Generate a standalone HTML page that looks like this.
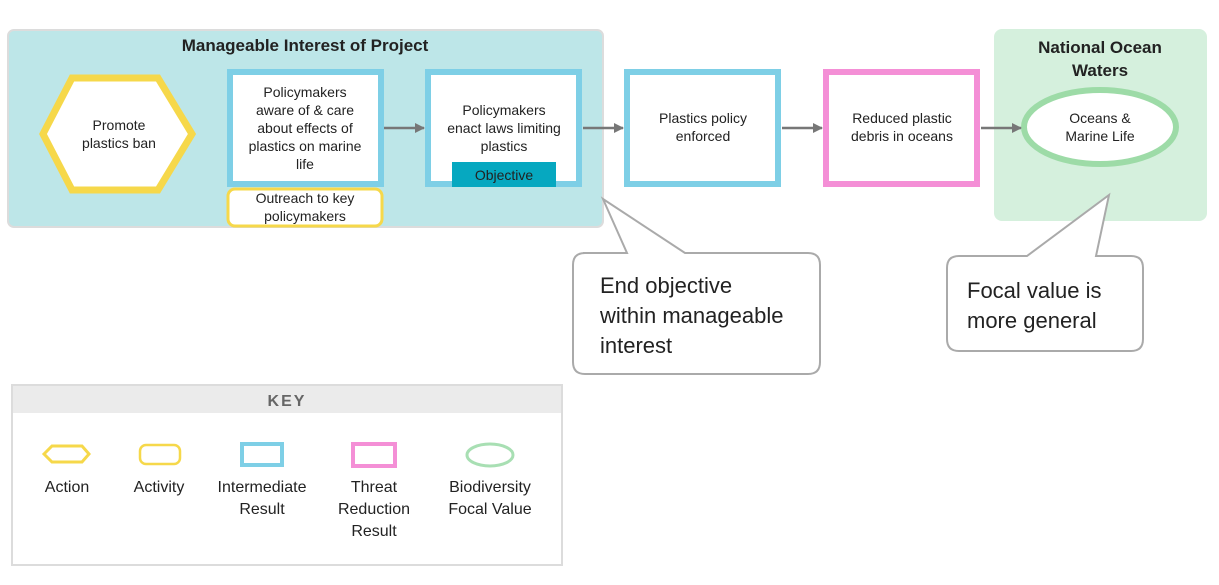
<!DOCTYPE html>
<html><head><meta charset="utf-8"><style>
body{margin:0;background:#fff}
svg{display:block}
text{font-family:"Liberation Sans",sans-serif;fill:#222}
</style></head><body>
<svg width="1219" height="585" viewBox="0 0 1219 585">
<defs><marker id="a" markerWidth="10" markerHeight="10" refX="9" refY="5" orient="auto" markerUnits="userSpaceOnUse"><path d="M0,0 L10,5 L0,10 z" fill="#777"/></marker></defs>
<rect x="8" y="30" width="595" height="197" rx="6" fill="#bde6e8" stroke="#dcdcdc" stroke-width="2"/>
<text x="305" y="51" text-anchor="middle" font-size="17" font-weight="bold">Manageable Interest of Project</text>
<polygon points="43,134 72,78 158,78 192,134 158,190 72,190" fill="#fff" stroke="#f6d84a" stroke-width="7"/>
<text x="119" y="130" text-anchor="middle" font-size="14">Promote</text>
<text x="119" y="148" text-anchor="middle" font-size="14">plastics ban</text>
<rect x="230" y="72" width="151" height="112" fill="#fff" stroke="#7ecfe6" stroke-width="6"/>
<g font-size="14" text-anchor="middle"><text x="305" y="97">Policymakers</text><text x="305" y="115">aware of &amp; care</text><text x="305" y="133">about effects of</text><text x="305" y="151">plastics on marine</text><text x="305" y="169">life</text></g>
<rect x="228" y="189" width="154" height="37" rx="7" fill="#fff" stroke="#f6d84a" stroke-width="3"/>
<text x="305" y="203" text-anchor="middle" font-size="14">Outreach to key</text>
<text x="305" y="221" text-anchor="middle" font-size="14">policymakers</text>
<rect x="428" y="72" width="151" height="112" fill="#fff" stroke="#7ecfe6" stroke-width="6"/>
<g font-size="14" text-anchor="middle"><text x="504" y="115">Policymakers</text><text x="504" y="133">enact laws limiting</text><text x="504" y="151">plastics</text></g>
<rect x="452" y="162" width="104" height="25" fill="#06a8c0"/>
<text x="504" y="180" text-anchor="middle" font-size="14">Objective</text>
<rect x="627" y="72" width="151" height="112" fill="#fff" stroke="#7ecfe6" stroke-width="6"/>
<text x="703" y="123" text-anchor="middle" font-size="14">Plastics policy</text>
<text x="703" y="141" text-anchor="middle" font-size="14">enforced</text>
<rect x="826" y="72" width="151" height="112" fill="#fff" stroke="#f48fd6" stroke-width="6"/>
<text x="902" y="123" text-anchor="middle" font-size="14">Reduced plastic</text>
<text x="902" y="141" text-anchor="middle" font-size="14">debris in oceans</text>
<rect x="994" y="29" width="213" height="192" rx="8" fill="#d5f0dd"/>
<text x="1100" y="53" text-anchor="middle" font-size="17" font-weight="bold">National Ocean</text>
<text x="1100" y="76" text-anchor="middle" font-size="17" font-weight="bold">Waters</text>
<ellipse cx="1100" cy="127" rx="76" ry="37" fill="#fff" stroke="#9ddba7" stroke-width="6"/>
<text x="1100" y="123" text-anchor="middle" font-size="14">Oceans &amp;</text>
<text x="1100" y="141" text-anchor="middle" font-size="14">Marine Life</text>
<g stroke="#777" stroke-width="2.5" marker-end="url(#a)">
<line x1="384" y1="128" x2="424" y2="128"/><line x1="583" y1="128" x2="623" y2="128"/>
<line x1="782" y1="128" x2="822" y2="128"/><line x1="981" y1="128" x2="1021" y2="128"/>
</g>
<path d="M583,253 L627,253 L603,199 L685,253 L808,253 Q820,253 820,265 L820,362 Q820,374 808,374 L585,374 Q573,374 573,362 L573,265 Q573,253 585,253 Z" fill="#fff" stroke="#aaa" stroke-width="2"/>
<g font-size="22" font-family="Liberation Sans"><text x="600" y="293">End objective</text><text x="600" y="323">within manageable</text><text x="600" y="353">interest</text></g>
<path d="M959,256 L1027,256 L1109,195 L1096,256 L1131,256 Q1143,256 1143,268 L1143,339 Q1143,351 1131,351 L959,351 Q947,351 947,339 L947,268 Q947,256 959,256 Z" fill="#fff" stroke="#aaa" stroke-width="2"/>
<g font-size="22"><text x="967" y="298">Focal value is</text><text x="967" y="328">more general</text></g>
<rect x="12" y="385" width="550" height="180" fill="#fff" stroke="#dcdcdc" stroke-width="2"/>
<rect x="13" y="386" width="548" height="27" fill="#ebebeb"/>
<text x="287" y="406" text-anchor="middle" font-size="16" font-weight="bold" fill="#666" style="fill:#666;letter-spacing:2px">KEY</text>
<polygon points="44,454 52,446 82,446 89,454 82,462 52,462" fill="#fff" stroke="#f6d84a" stroke-width="3"/>
<rect x="140" y="445" width="40" height="19" rx="6" fill="#fff" stroke="#f6d84a" stroke-width="2.5"/>
<rect x="242" y="444" width="40" height="21" fill="#fff" stroke="#7ecfe6" stroke-width="4"/>
<rect x="353" y="444" width="42" height="22" fill="#fff" stroke="#f48fd6" stroke-width="4"/>
<ellipse cx="490" cy="455" rx="23" ry="11" fill="#fff" stroke="#a8dfb3" stroke-width="3"/>
<g font-size="16" text-anchor="middle">
<text x="67" y="492">Action</text><text x="159" y="492">Activity</text>
<text x="262" y="492">Intermediate</text><text x="262" y="514">Result</text>
<text x="374" y="492">Threat</text><text x="374" y="514">Reduction</text><text x="374" y="536">Result</text>
<text x="490" y="492">Biodiversity</text><text x="490" y="514">Focal Value</text>
</g>
</svg>
</body></html>
